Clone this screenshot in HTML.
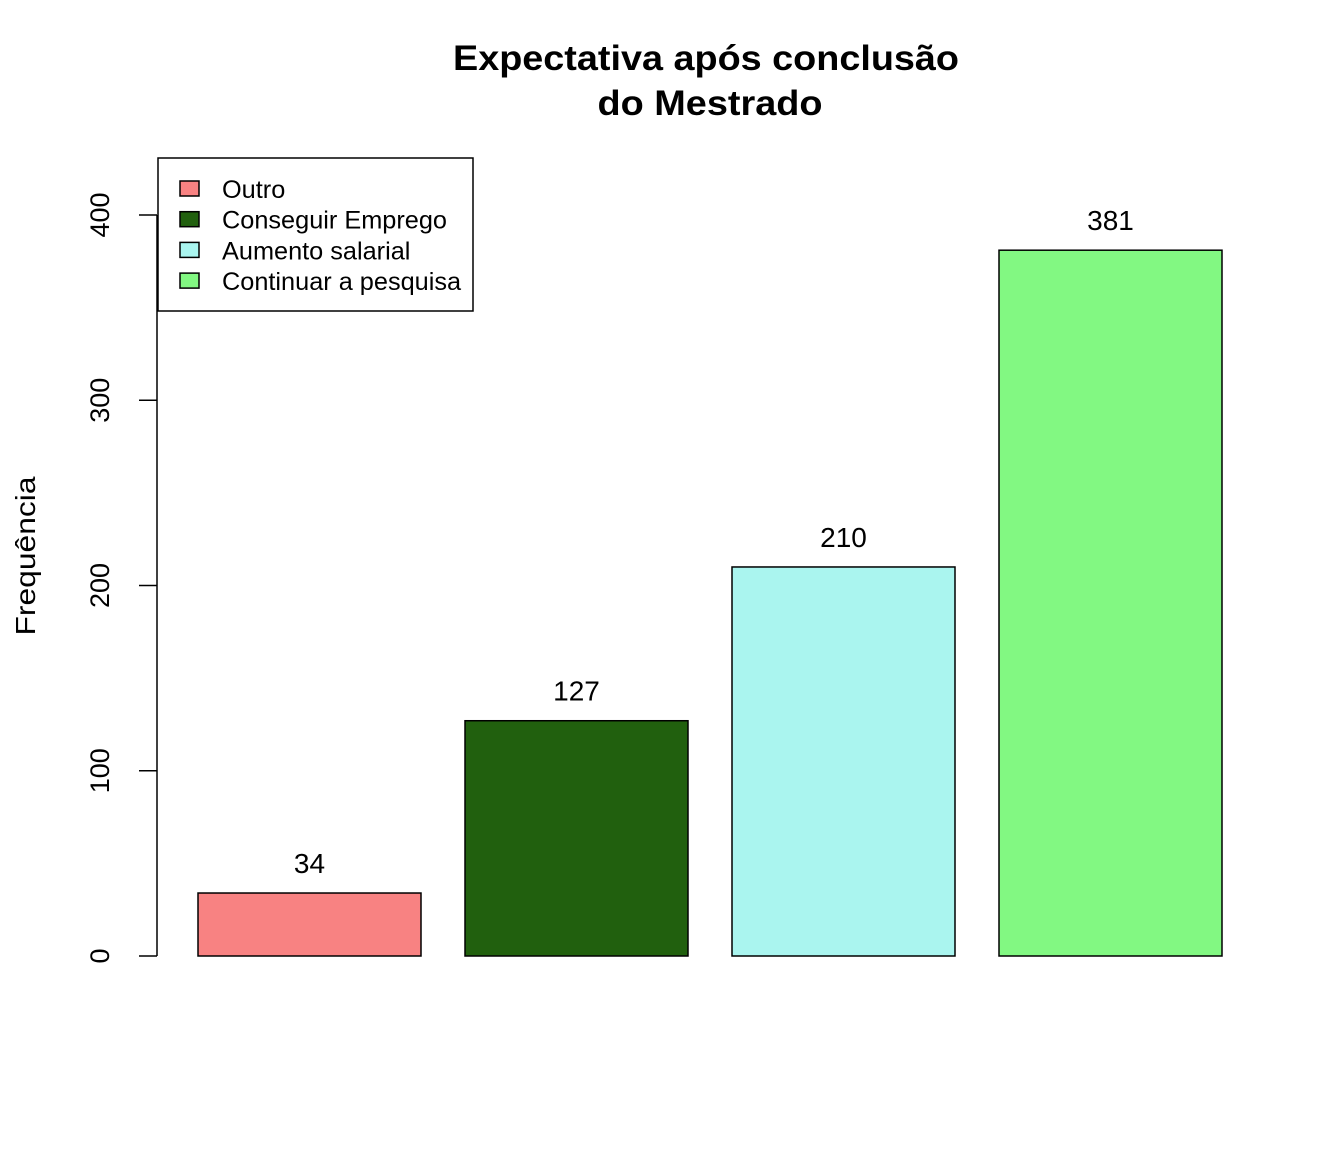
<!DOCTYPE html>
<html><head><meta charset="utf-8"><style>
body{margin:0;background:#fff}
svg{display:block;font-family:"Liberation Sans",Arial,sans-serif}
</style></head><body>
<svg id="chart" width="1344" height="1152" viewBox="0 0 1344 1152">
<text x="706" y="70" text-anchor="middle" font-size="35" font-weight="bold" textLength="506" lengthAdjust="spacingAndGlyphs">Expectativa após conclusão</text>
<text x="710" y="115" text-anchor="middle" font-size="35" font-weight="bold" textLength="225" lengthAdjust="spacingAndGlyphs">do Mestrado</text>
<text transform="translate(35,556) rotate(-90)" text-anchor="middle" font-size="28" textLength="159" lengthAdjust="spacingAndGlyphs">Frequência</text>
<g id="yaxis"></g>
<g id="bars"></g>
<g>
<rect x="158" y="158" width="315" height="153" fill="#fff" stroke="#000" stroke-width="1.5"/>
<g id="legend"></g>
</g>
</svg>
<script>
const categories=["Outro","Conseguir Emprego","Aumento salarial","Continuar a pesquisa"];
const values=[34,127,210,381];
const colors=["#F88282","#21600E","#AAF5EF","#82F882"];
const yTicks=[0,100,200,300,400];
const NS="http://www.w3.org/2000/svg";
function y(v){return 956-v*(956-215)/400;}
function x(i){return 198+i*267;}
const bw=223;
function mk(tag,attrs,parent){const e=document.createElementNS(NS,tag);for(const k in attrs)e.setAttribute(k,attrs[k]);parent.appendChild(e);return e;}
const ya=document.getElementById('yaxis');
mk('line',{x1:157,x2:157,y1:y(yTicks[yTicks.length-1]),y2:y(yTicks[0]),stroke:'#000','stroke-width':1.5},ya);
yTicks.forEach(t=>{
 const l=mk('line',{x1:139,x2:157,y1:y(t),y2:y(t),stroke:'#000','stroke-width':1.5},ya);
 
 
 const tx=mk('text',{transform:`translate(109,${y(t)}) rotate(-90)`,'text-anchor':'middle','font-size':27},ya);
 tx.textContent=t;
 
 
});
const bg=document.getElementById('bars');
values.forEach((v,i)=>{
 const r=mk('rect',{x:x(i),y:y(v),width:bw,height:y(0)-y(v),fill:colors[i],stroke:'#000','stroke-width':1.5},bg);
 
 
 const t=mk('text',{x:x(i)+bw/2,y:y(v)-20,'text-anchor':'middle','font-size':28},bg);
 t.textContent=v;
 
 
});
const lg=document.getElementById('legend');
categories.forEach((c,i)=>{
 const yy=189+i*30.7;
 const s=mk('rect',{x:180,y:yy-8,width:19,height:15,fill:colors[i],stroke:'#000','stroke-width':1.5},lg);
 
 
 const t=mk('text',{x:222,y:yy+9,'font-size':25.3},lg);
 t.textContent=c;
 
 
});
</script>
</body></html>
